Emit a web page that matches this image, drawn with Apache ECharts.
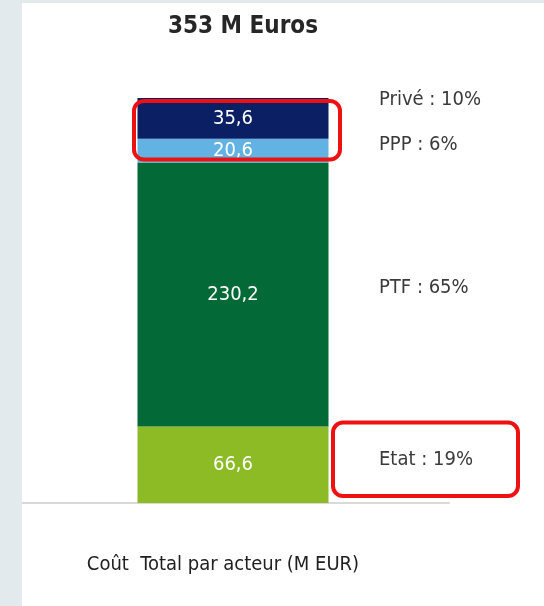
<!DOCTYPE html>
<html>
<head>
<meta charset="utf-8">
<script src="https://cdn.jsdelivr.net/npm/echarts@6/dist/echarts.min.js"></script>
<style>
  html, body { margin: 0; padding: 0; background: #e3eaee; }
  #chart { width: 544px; height: 606px; }
</style>
</head>
<body>
<div id="chart"></div>
<script>
// ---- data ----
const categories = ['Coût  Total par acteur (M EUR)'];
const actors = ['Etat', 'PTF', 'PPP', 'Privé'];
const values = [66.6, 230.2, 20.6, 35.6];
const titleText = '353 M Euros';

// ---- styles ----
const FONT = "'DejaVu Sans Condensed', 'DejaVu Sans', sans-serif";
const colors = ['#8cbb26', '#036a37', '#62b3e4', '#0b1f64'];
const sideLabelDy = [-5, -7, -6, -19];

const total = values.reduce((a, b) => a + b, 0);
const cum = [];
values.reduce((acc, v, i) => { cum[i] = acc; return acc + v; }, 0);

const chart = echarts.init(document.getElementById('chart'), null, { renderer: 'canvas' });

const barSeries = actors.map((a, i) => ({
  name: a,
  type: 'bar',
  stack: 'total',
  barWidth: 191,
  itemStyle: { color: colors[i] },
  label: {
    show: true,
    position: 'inside',
    color: '#ffffff',
    fontFamily: FONT,
    fontSize: 20,
    formatter: p => p.value.toFixed(1).replace('.', ',')
  },
  emphasis: { disabled: true },
  data: [values[i]]
}));

const sideSeries = {
  type: 'scatter',
  symbolSize: 0,
  silent: true,
  z: 5,
  itemStyle: { opacity: 1 },
  label: {
    show: true,
    position: 'right',
    distance: 5,
    color: '#3a3a3a',
    fontFamily: FONT,
    fontSize: 20,
    formatter: p => p.name + ' : ' + Math.round(values[p.dataIndex] / total * 100) + '%'
  },
  data: actors.map((a, i) => ({
    name: a,
    value: [0, cum[i] + values[i] / 2],
    label: { offset: [141, sideLabelDy[i]] }
  }))
};

const baseGraphic = [
  { type: 'rect', z: -10, shape: { x: 22, y: 3, width: 522, height: 603 }, style: { fill: '#ffffff' } },
  { type: 'rect', z: 100, shape: { x: 0, y: 0, width: 22, height: 606 }, style: { fill: '#e3eaee' } }
];

chart.setOption({
  backgroundColor: 'transparent',
  animation: false,
  title: {
    text: titleText,
    left: 238,
    top: 10,
    textAlign: 'center',
    textStyle: { fontFamily: FONT, fontWeight: 'bold', fontSize: 24, color: '#262626' }
  },
  grid: { left: 17, right: 95, top: 98, bottom: 103 },
  xAxis: {
    type: 'category',
    data: categories,
    axisLine: { lineStyle: { color: '#d9d9d9', width: 2 } },
    axisTick: { show: false },
    axisLabel: {
      margin: 52,
      color: '#202020',
      fontFamily: FONT,
      fontSize: 20,
      padding: [0, 20, 0, 0]
    }
  },
  yAxis: {
    type: 'value',
    min: 0,
    max: total,
    show: false,
    splitLine: { show: false }
  },
  series: barSeries.concat([sideSeries]),
  graphic: baseGraphic
});

// annotation boxes derived from the chart's own scale
const topOfPPP = chart.convertToPixel({ gridIndex: 0 }, [0, cum[2]]);
const topOfAll = chart.convertToPixel({ gridIndex: 0 }, [0, total]);
const etatLow = chart.convertToPixel({ gridIndex: 0 }, [0, 0]);
const etatHigh = chart.convertToPixel({ gridIndex: 0 }, [0, cum[1]]);
const cx = topOfAll[0];
chart.setOption({
  graphic: baseGraphic.concat([
    {
      type: 'rect', z: 50,
      shape: { x: cx - 99, y: topOfAll[1] + 3, width: 206, height: (topOfPPP[1] - topOfAll[1]) - 6, r: 10 },
      style: { fill: 'none', stroke: '#ee1111', lineWidth: 4 }
    },
    {
      type: 'rect', z: 50,
      shape: { x: cx + 100, y: etatHigh[1] - 4, width: 185, height: (etatLow[1] - etatHigh[1]) - 3, r: 10 },
      style: { fill: 'none', stroke: '#ee1111', lineWidth: 4 }
    }
  ])
});
</script>
</body>
</html>
